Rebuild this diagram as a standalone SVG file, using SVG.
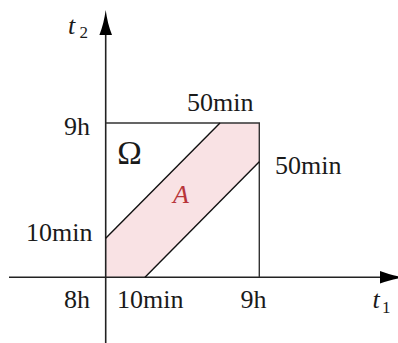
<svg xmlns="http://www.w3.org/2000/svg" width="398" height="343" viewBox="0 0 398 343">
  <style>
    .lbl { font-size: 26px; fill: #1a1a1a; }
    .it { font-style: italic; }
    .sub { font-size: 17px; font-style: normal; }
    .big { font-size: 33px; }
    .red { fill: #b8353a; }
    .axis { stroke: #222; stroke-width: 1.6; fill: none; }
    .box { stroke: #333; stroke-width: 1.4; fill: none; }
    .diag { stroke: #111; stroke-width: 1.4; fill: none; }
    .head { fill: #000; stroke: none; }
  </style>
  <rect width="398" height="343" fill="#ffffff"/>

  <g id="region-A">
    <polygon points="105.7,238.3 220,123 259.3,123 259.3,161.7 145,277.3 105.7,277.3" fill="#f9e2e4"/>
  </g>

  <g id="connectors">
    <line class="axis" x1="9" y1="277.3" x2="384" y2="277.3"/>
    <path class="head" d="M405,277.3 C396,278.5 388,280.5 380,283.6 L380,271 C388,274.1 396,276.1 405,277.3 Z"/>
    <line class="axis" x1="105.7" y1="343" x2="105.7" y2="31"/>
    <path class="head" d="M105.7,10 C106.9,19 108.9,27 112,35 L99.4,35 C102.5,27 104.5,19 105.7,10 Z"/>
    <polyline class="box" points="105.7,123 259.3,123 259.3,277.3"/>
    <line class="diag" x1="105.7" y1="238.3" x2="220" y2="123"/>
    <line class="diag" x1="145" y1="277.3" x2="259.3" y2="161.7"/>
  </g>

  <g id="labels">
    <text class="lbl it" font-family="Liberation Serif" x="68" y="34">t<tspan class="sub" x="79.5" y="37.7">2</tspan></text>
    <text class="lbl it" font-family="Liberation Serif" x="372.5" y="308">t<tspan class="sub" x="382" y="313">1</tspan></text>
    <text class="lbl" font-family="Liberation Serif" x="64" y="135">9h</text>
    <text class="lbl" font-family="Liberation Serif" x="187" y="110.7">50min</text>
    <text class="lbl" font-family="Liberation Serif" x="275" y="174">50min</text>
    <text class="lbl" font-family="Liberation Serif" x="26" y="240.7">10min</text>
    <text class="lbl" font-family="Liberation Serif" x="64" y="308">8h</text>
    <text class="lbl" font-family="Liberation Serif" x="117" y="308">10min</text>
    <text class="lbl" font-family="Liberation Serif" x="240.5" y="308">9h</text>
    <text class="lbl big" font-family="Liberation Serif" x="117.3" y="164">Ω</text>
    <text class="lbl it red" font-family="Liberation Serif" x="173" y="202.7">A</text>
  </g>
</svg>
